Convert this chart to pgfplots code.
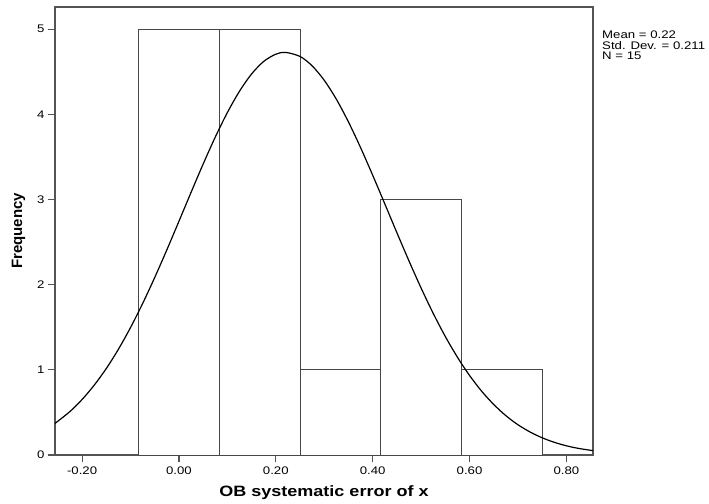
\documentclass[border=0pt]{standalone}
\usepackage{fontspec}
\setmainfont{Liberation Sans}
\usepackage{pgfplots}
\pgfplotsset{compat=1.18}

\definecolor{framegray}{gray}{0.33}
\definecolor{bargray}{gray}{0.28}

\begin{document}
\begin{tikzpicture}[x=1bp,y=1bp]
\useasboundingbox (0,0) rectangle (709,504);
\begin{axis}[
  at={(55bp,49bp)}, anchor=south west,
  scale only axis, width=538bp, height=448bp,
  xmin=-0.256, xmax=0.855,
  ymin=0, ymax=5.26,
  axis line style={framegray, line width=1.3bp},
  xtick={-0.2,0,0.2,0.4,0.6,0.8},
  xticklabels={-0.20,0.00,0.20,0.40,0.60,0.80},
  ytick={0,1,2,3,4,5},
  yticklabels={0,1,2,3,4,5},
  xtick pos=bottom, ytick pos=left,
  tick align=outside,
  major tick length=7.5bp,
  tick style={framegray, line width=1.2bp},
  tick label style={font=\fontsize{11bp}{13bp}\selectfont, xscale=1.2},
  xticklabel style={yshift=-1bp},
  yticklabel style={xshift=1bp},
  clip=false,
]
% histogram of the 15 observations, bin width 1/6
\addplot[ybar interval, fill=white, draw=bargray, line width=0.9bp]
  coordinates {(-0.08333,5) (0.08333,5) (0.25,1) (0.41667,3) (0.58333,1) (0.75,1)};
% fitted normal curve (mean 0.22, sd 0.211, scaled to counts)
\addplot[smooth, black, line width=1.2bp] coordinates {
  (-0.256,0.371) (-0.225,0.511) (-0.2,0.652) (-0.175,0.820) (-0.15,1.016)
  (-0.125,1.242) (-0.1,1.497) (-0.075,1.779) (-0.05,2.085) (-0.025,2.409)
  (0,2.745) (0.025,3.084) (0.05,3.417) (0.075,3.733) (0.1,4.021)
  (0.125,4.271) (0.15,4.474) (0.175,4.621) (0.2,4.706) (0.22,4.727)
  (0.25,4.679) (0.275,4.569) (0.3,4.399) (0.325,4.177) (0.35,3.910)
  (0.375,3.609) (0.4,3.285) (0.425,2.949) (0.45,2.610) (0.475,2.278)
  (0.5,1.960) (0.525,1.663) (0.55,1.391) (0.575,1.148) (0.6,0.934)
  (0.625,0.749) (0.65,0.593) (0.675,0.462) (0.7,0.355) (0.725,0.270)
  (0.75,0.202) (0.775,0.149) (0.8,0.108) (0.825,0.0775) (0.855,0.051)};
\end{axis}
% axis titles
\node[anchor=base, xscale=1.2, font=\fontsize{15bp}{18bp}\selectfont\bfseries]
  at (324,7) {OB systematic error of x};
\node[anchor=base, rotate=90, font=\fontsize{15bp}{18bp}\selectfont\bfseries]
  at (22,273) {Frequency};
% summary statistics
\node[anchor=base west, xscale=1.2, inner sep=0pt,
      font=\fontsize{11bp}{10.5bp}\selectfont]
  at (602,465) {Mean = 0.22};
\node[anchor=base west, xscale=1.2, inner sep=0pt,
      font=\fontsize{11bp}{10.5bp}\selectfont]
  at (602,454.5) {Std. Dev. = 0.211};
\node[anchor=base west, xscale=1.2, inner sep=0pt,
      font=\fontsize{11bp}{10.5bp}\selectfont]
  at (602,444) {N = 15};
\end{tikzpicture}
\end{document}
